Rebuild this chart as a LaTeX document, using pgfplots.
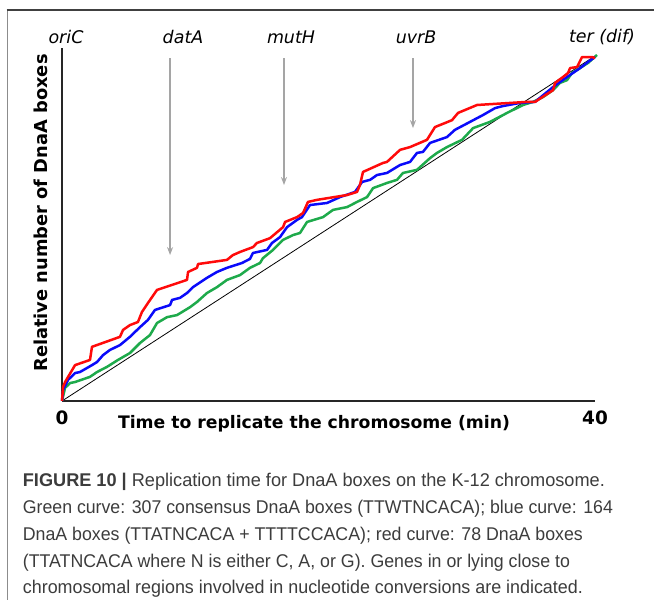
\documentclass[border=0pt]{standalone}
\usepackage{fontspec}
\setmainfont{Liberation Sans}
\newfontfamily\capfont[FakeStretch=0.98]{Liberation Sans}
\newfontfamily\chartfont{DejaVu Sans}
\usepackage{graphicx}
\usepackage{pgfplots}
\pgfplotsset{compat=1.18}
\usetikzlibrary{arrows.meta}

\definecolor{cred}{RGB}{255,10,10}
\definecolor{cblue}{RGB}{10,10,250}
\definecolor{cgreen}{RGB}{30,170,75}
\definecolor{arrowgray}{RGB}{165,165,165}
\definecolor{captext}{RGB}{60,60,60}

% caption line squeezed to the width it has in the figure
\newcommand{\capline}[2]{\resizebox{#1}{\height}{#2}}

\begin{document}
\begin{tikzpicture}
\path[use as bounding box] (0,0) rectangle (654bp,600bp);
% frame round figure and caption
\draw[line width=1.8bp, black!45] (7.5bp,0) -- (7.5bp,590bp);
\draw[line width=1.8bp, black!75] (6.6bp,590bp) -- (654bp,590bp);

\begin{axis}[
  at={(62bp,199bp)}, anchor=south west,
  scale only axis, width=533bp, height=353bp,
  xmin=0, xmax=40, ymin=0, ymax=1.0232,
  axis x line*=bottom, axis y line*=left,
  axis line style={-, line width=1.6bp, black!85},
  xtick={0,40}, ytick=\empty,
  major tick length=0pt,
  /pgf/number format/assume math mode=true,
  xticklabel style={font=\chartfont\bfseries\fontsize{18.5}{18.5}\selectfont, yshift=-6bp},
  clip=false,
]
% uniform replication (diagonal)
\addplot[black, line width=0.8bp] coordinates {(0,0) (40,1)};

% green: 307 consensus DnaA boxes
\addplot[cgreen, line width=2.5bp, line join=round] coordinates {
(0,0) (0.23,0.038) (0.60,0.052) (0.98,0.055) (2.10,0.070) (2.63,0.084)
(3.38,0.099) (4.20,0.119) (5.10,0.139) (5.85,0.168) (6.60,0.191) (7.13,0.226)
(7.88,0.243) (8.63,0.249) (9.61,0.272) (10.13,0.287) (10.88,0.313) (11.63,0.330)
(12.38,0.351) (13.36,0.365) (14.11,0.386) (14.86,0.400) (15.08,0.414) (15.84,0.438)
(16.59,0.467) (17.34,0.481) (17.86,0.487) (18.39,0.519) (19.59,0.533) (20.34,0.554)
(21.39,0.562) (22.14,0.577) (22.89,0.591) (23.34,0.617) (24.39,0.632) (25.14,0.641)
(25.59,0.661) (26.64,0.670) (27.62,0.704) (28.14,0.719) (28.89,0.736) (30.02,0.757)
(30.85,0.791) (32.12,0.809) (33.40,0.835) (34.60,0.858) (35.35,0.867) (36.10,0.881)
(36.85,0.901) (37.37,0.922) (37.90,0.930) (38.28,0.951) (38.88,0.965) (39.48,0.980)
(40.15,1.003)
};

% blue: 164 DnaA boxes
\addplot[cblue, line width=2.5bp, line join=round] coordinates {
(0,0) (0.08,0.032) (0.45,0.061) (0.98,0.081) (1.35,0.084) (2.25,0.104)
(2.63,0.113) (3.08,0.133) (3.60,0.148) (4.35,0.162) (5.10,0.186) (5.85,0.214)
(6.45,0.235) (6.98,0.264) (8.11,0.278) (8.26,0.293) (8.86,0.299) (9.38,0.313)
(9.83,0.330) (10.88,0.357) (11.63,0.374) (12.38,0.386) (13.51,0.400) (14.11,0.412)
(14.33,0.429) (15.39,0.438) (15.76,0.458) (16.36,0.475) (16.89,0.504) (17.64,0.525)
(18.01,0.533) (18.61,0.568) (19.89,0.574) (20.86,0.591) (21.99,0.606) (22.52,0.635)
(23.12,0.641) (23.64,0.655) (24.39,0.661) (25.37,0.684) (26.12,0.693) (26.64,0.719)
(27.09,0.722) (27.62,0.748) (27.84,0.751) (28.89,0.765) (29.49,0.786) (30.62,0.809)
(31.60,0.829) (32.50,0.849) (33.10,0.855) (34.37,0.864) (35.50,0.867) (36.85,0.910)
(37.90,0.939) (38.88,0.965) (39.48,0.983) (40.00,0.997)
};

% red: 78 DnaA boxes
\addplot[cred, line width=2.5bp, line join=round] coordinates {
(0,0) (0.08,0.041) (0.23,0.055) (0.98,0.104) (2.10,0.119) (2.25,0.157)
(4.35,0.186) (4.58,0.206) (5.10,0.220) (5.70,0.229) (6.00,0.258) (6.45,0.284)
(7.13,0.322) (9.38,0.351) (9.46,0.374) (10.13,0.386) (10.21,0.397) (12.38,0.409)
(12.83,0.423) (13.36,0.432) (14.33,0.446) (14.63,0.458) (15.61,0.472) (16.59,0.504)
(16.74,0.519) (17.64,0.533) (18.09,0.545) (18.46,0.577) (19.14,0.583) (21.39,0.597)
(22.14,0.606) (22.36,0.626) (22.59,0.664) (24.09,0.690) (24.39,0.693) (25.37,0.728)
(26.12,0.736) (27.39,0.757) (27.99,0.794) (29.27,0.814) (29.72,0.835) (31.15,0.858)
(34.90,0.867) (35.50,0.867) (36.85,0.901) (37.00,0.922) (37.60,0.939) (37.98,0.951)
(38.13,0.965) (38.65,0.968) (39.03,0.997) (39.78,0.997) (40.00,0.994)
};

% gene positions
\draw[arrowgray, line width=1.4bp, -{Stealth[length=8bp,width=6bp]}] (axis cs:8.11,0.994) -- (axis cs:8.11,0.423);
\draw[arrowgray, line width=1.4bp, -{Stealth[length=8bp,width=6bp]}] (axis cs:16.66,0.994) -- (axis cs:16.66,0.626);
\draw[arrowgray, line width=1.4bp, -{Stealth[length=8bp,width=6bp]}] (axis cs:26.34,0.994) -- (axis cs:26.34,0.791);
\end{axis}

% gene names
\begin{scope}[every node/.style={font=\chartfont\itshape\fontsize{17.5}{17.5}\selectfont, inner sep=0pt}]
\node at (66bp,563bp) {oriC};
\node at (183bp,563bp) {datA};
\node at (291bp,563bp) {mutH};
\node at (416bp,563bp) {uvrB};
\node at (602bp,563bp) {ter (dif)};
\end{scope}

% axis titles
\node[font=\chartfont\bfseries\fontsize{17.3}{17.3}\selectfont, inner sep=0pt] at (314bp,176bp) {Time to replicate the chromosome (min)};
\node[font=\chartfont\bfseries\fontsize{17.9}{17.9}\selectfont, inner sep=0pt, rotate=90] at (41bp,387bp) {Relative number of DnaA boxes};

% caption
\begin{scope}[every node/.style={anchor=base west, inner sep=0pt, text=captext, font=\capfont\fontsize{18.5}{18.5}\selectfont}]
\node at (22.7bp,113.3bp) {\capline{582bp}{{\bfseries FIGURE 10 |} Replication time for DnaA boxes on the K-12 chromosome.}};
\node at (22.7bp,86.5bp) {\capline{590bp}{Green curve: 307 consensus DnaA boxes (TTWTNCACA); blue curve: 164}};
\node at (22.7bp,59.7bp) {\capline{560bp}{DnaA boxes (TTATNCACA + TTTTCCACA); red curve: 78 DnaA boxes}};
\node at (22.7bp,32.9bp) {\capline{547bp}{(TTATNCACA where N is either C, A, or G). Genes in or lying close to}};
\node at (22.7bp,6.1bp) {\capline{560bp}{chromosomal regions involved in nucleotide conversions are indicated.}};
\end{scope}
\end{tikzpicture}
\end{document}
